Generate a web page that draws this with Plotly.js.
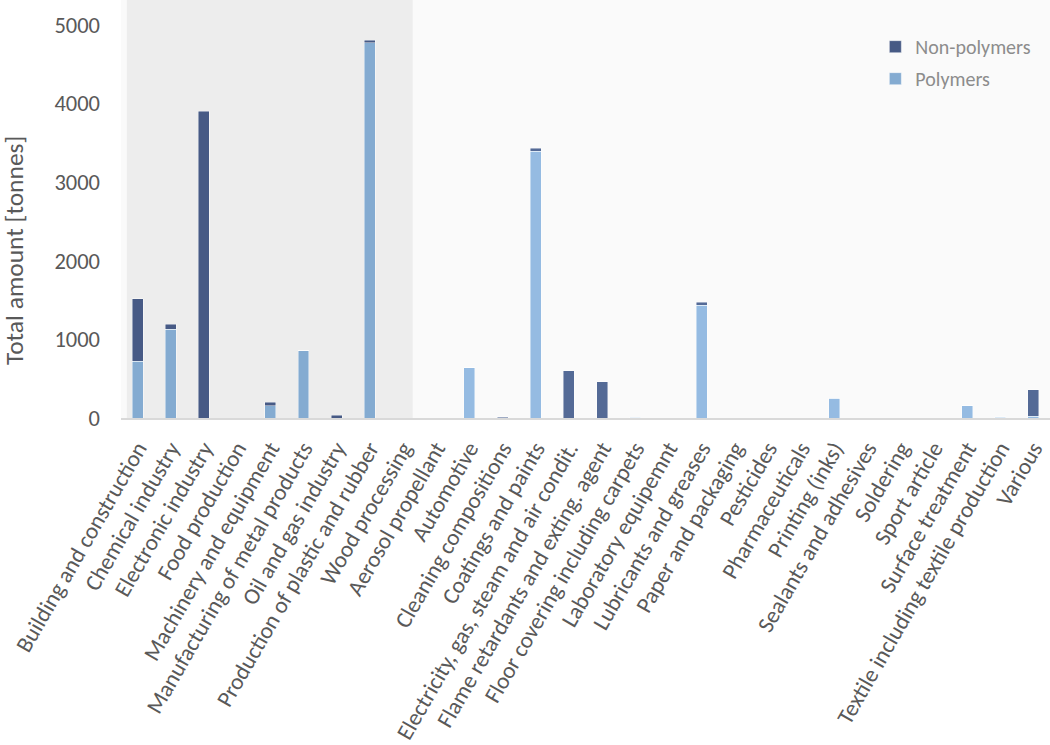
<!DOCTYPE html>
<html>
<head>
<meta charset="utf-8">
<script src="https://cdn.plot.ly/plotly-3.0.1.min.js"></script>
<style>
html,body{margin:0;padding:0;background:#fff;}
#chart{width:1050px;height:745px;}
</style>
</head>
<body>
<div id="chart"></div>
<script>
// Categories (x-axis)
const categories = [
  "Building and construction",
  "Chemical industry",
  "Electronic industry",
  "Food production",
  "Machinery and equipment",
  "Manufacturing of metal products",
  "Oil and gas industry",
  "Production of plastic and rubber",
  "Wood processing",
  "Aerosol propellant",
  "Automotive",
  "Cleaning compositions",
  "Coatings and paints",
  "Electricity, gas, steam and air condit.",
  "Flame retardants and exting. agent",
  "Floor covering including carpets",
  "Laboratory equipemnt",
  "Lubricants and greases",
  "Paper and packaging",
  "Pesticides",
  "Pharmaceuticals",
  "Printing (inks)",
  "Sealants and adhesives",
  "Soldering",
  "Sport article",
  "Surface treatment",
  "Textile including textile production",
  "Various"
];

// Polymers (tonnes)
const polymers = [725, 1130, 0, 0, 155, 858, 0, 4775, 0, 0, 642, 6, 3395, 0, 0, 10, 0, 1435, 0, 0, 0, 250, 0, 0, 0, 157, 10, 20];

// Non-polymers (tonnes)
const nonPolymers = [795, 65, 3900, 0, 45, 0, 32, 28, 0, 0, 0, 10, 40, 602, 460, 0, 0, 36, 0, 0, 0, 0, 0, 0, 0, 0, 6, 338];

// Number of leading categories inside the shaded band
const shadedCount = 9;

const yTicks = [0, 1000, 2000, 3000, 4000, 5000];

const FONT = "Carlito, Lato, 'Open Sans', sans-serif";

const darkIn = "#475a85", darkOut = "#546a96";
const lightIn = "#84abd1", lightOut = "#95bbe2";

const xIdx = categories.map((c, i) => i);

const polyColors = categories.map((c, i) => i < shadedCount ? lightIn : lightOut);
const nonColors = categories.map((c, i) => i < shadedCount ? darkIn : darkOut);

const traces = [
  {
    type: "bar",
    name: "Polymers",
    x: xIdx,
    y: polymers,
    legendgroup: "b",
    legendrank: 2,
    marker: {color: polyColors, line: {color: "rgba(255,255,255,0.55)", width: 0.8}},
    hoverinfo: "x+y+name"
  },
  {
    type: "bar",
    name: "Non-polymers",
    x: xIdx,
    y: nonPolymers,
    legendgroup: "a",
    legendrank: 1,
    marker: {color: nonColors, line: {color: "rgba(255,255,255,0.55)", width: 0.8}},
    hoverinfo: "x+y+name"
  }
];

const layout = {
  width: 1050,
  height: 745,
  margin: {l: 121, r: 0, t: 0, b: 327, pad: 0},
  paper_bgcolor: "#ffffff",
  plot_bgcolor: "#fafafa",
  barmode: "stack",
  bargap: 0.67,
  font: {family: FONT, color: "#595959", size: 19},
  showlegend: true,
  legend: {
    x: 0.812, xanchor: "left",
    y: 0.935, yanchor: "top",
    bgcolor: "rgba(0,0,0,0)",
    font: {family: FONT, size: 20, color: "#8c8c8c"},
    traceorder: "grouped",
    tracegroupgap: 3
  },
  xaxis: {
    type: "linear",
    range: [-0.5, categories.length - 0.5],
    tickmode: "array",
    tickvals: xIdx,
    ticktext: categories,
    tickangle: -60,
    ticks: "",
    ticklabelstandoff: 6,
    showgrid: false,
    zeroline: false,
    showline: true,
    linecolor: "#d9d9d9",
    linewidth: 2,
    tickfont: {family: FONT, size: 23, color: "#595959"},
    fixedrange: true
  },
  yaxis: {
    range: [0, 5318],
    tickmode: "array",
    tickvals: yTicks,
    ticktext: yTicks.map(String),
    showgrid: false,
    zeroline: false,
    showline: false,
    ticks: "",
    ticklabelstandoff: 20,
    tickfont: {family: FONT, size: 22.5, color: "#595959"},
    fixedrange: true
  },
  shapes: [
    {
      type: "rect", layer: "below",
      xref: "x", yref: "paper",
      x0: -0.325, x1: 8.29, y0: 0, y1: 1,
      fillcolor: "#ededed", line: {width: 0}
    }
  ],
  annotations: [
    {
      text: "Total amount [tonnes]",
      textangle: -90,
      xref: "paper", yref: "paper",
      x: -(121 - 14) / 929, y: (418 - 251) / 418,
      xanchor: "center", yanchor: "middle",
      showarrow: false,
      font: {family: FONT, size: 25.5, color: "#595959"}
    }
  ]
};

Plotly.newPlot("chart", traces, layout, {displayModeBar: false, staticPlot: true});
</script>
</body>
</html>
